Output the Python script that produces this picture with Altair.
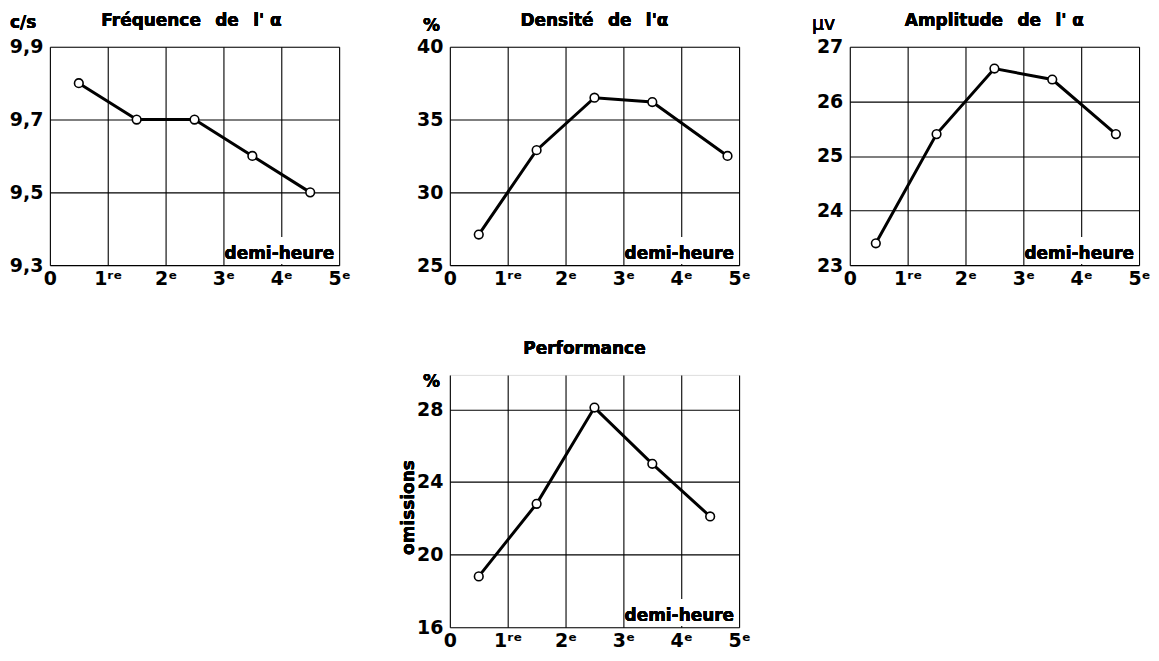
import json
import altair as alt
import pandas as pd

# ---- data ----
half_hour_ticks = [0, 1, 2, 3, 4, 5]
half_hour_labels = ["0", "1ʳᵉ", "2ᵉ", "3ᵉ", "4ᵉ", "5ᵉ"]

freq_x = [0.5, 1.5, 2.5, 3.5, 4.5]
freq_y = [9.8, 9.7, 9.7, 9.6, 9.5]
freq_ticks = [9.3, 9.5, 9.7, 9.9]

dens_x = [0.5, 1.5, 2.5, 3.5, 4.8]
dens_y = [27.1, 32.9, 36.5, 36.2, 32.5]
dens_ticks = [25, 30, 35, 40]

ampl_x = [0.45, 1.5, 2.5, 3.5, 4.6]
ampl_y = [23.4, 25.4, 26.6, 26.4, 25.4]
ampl_ticks = [23, 24, 25, 26, 27]

perf_x = [0.5, 1.5, 2.5, 3.5, 4.5]
perf_y = [18.8, 22.8, 28.1, 25.0, 22.1]
perf_ticks = [16, 20, 24, 28]

FONT = "DejaVu Sans"
W = 290
H1 = 219
H2 = 253
SP = "\u2002 "  # wide word gap as in the original lettering

x_label_expr = json.dumps(half_hour_labels, ensure_ascii=False) + "[datum.value]"


def panel(xs, ys, ydomain, yticks, ylabel_expr, height, title, unit,
          unit_x, unit_y, unit_bold=True, title_dx=0, extra=None):
    df = pd.DataFrame({"x": xs, "y": ys})
    base = alt.Chart(df)
    xenc = alt.X("x:Q", scale=alt.Scale(domain=[0, 5], nice=False, zero=False),
                 axis=alt.Axis(values=half_hour_ticks, labelExpr=x_label_expr,
                               grid=True, ticks=False, domain=False,
                               labelFlush=False, labelPadding=4,
                               labelFontSize=19, labelFontWeight="bold",
                               labelFont=FONT, labelColor="black",
                               gridColor="black", gridWidth=1.1, gridOpacity=1,
                               title=None))
    yenc = alt.Y("y:Q", scale=alt.Scale(domain=ydomain, nice=False, zero=False),
                 axis=alt.Axis(values=yticks, labelExpr=ylabel_expr,
                               grid=True, ticks=False, domain=False,
                               labelFlush=False, labelPadding=7,
                               labelFontSize=19, labelFontWeight="bold",
                               labelFont=FONT, labelColor="black",
                               gridColor="black", gridWidth=1.1, gridOpacity=1,
                               title=None))
    line = base.mark_line(color="black", strokeWidth=3).encode(x=xenc, y=yenc)
    pts = base.mark_point(shape="circle", filled=True, fill="white",
                          stroke="black", strokeWidth=1.6, size=75,
                          opacity=1).encode(x="x:Q", y="y:Q")
    box = base.mark_rect(fill="white", stroke=None).encode(
        x=alt.value(W - 100), x2=alt.value(W - 1.5),
        y=alt.value(height - 28), y2=alt.value(height - 1.5))
    lab = base.mark_text(text="demi-heure", align="right", baseline="alphabetic",
                         font=FONT, fontSize=17, fontWeight="bold",
                         color="black").encode(
        x=alt.value(W - 5), y=alt.value(height - 6))
    ttl = base.mark_text(text=title, align="center", baseline="middle",
                         font=FONT, fontSize=17, fontWeight="bold",
                         color="black").encode(
        x=alt.value(W / 2 + title_dx), y=alt.value(-26))
    un = base.mark_text(text=unit, align="left", baseline="middle",
                        font=FONT, fontSize=17 if unit_bold else 19,
                        fontWeight="bold" if unit_bold else "normal",
                        color="black").encode(
        x=alt.value(unit_x), y=alt.value(unit_y))
    layers = [box, lab, line, pts, ttl, un]
    if extra is not None:
        layers.append(extra(base))
    return alt.layer(*layers).properties(width=W, height=height)


comma_expr = "replace(format(datum.value, '.1f'), '.', ',')"
int_expr = "format(datum.value, 'd')"

p1 = panel(freq_x, freq_y, [9.3, 9.9], freq_ticks, comma_expr, H1,
           "Fréquence" + SP + "de" + SP + "l' α", "c/s", -40, -24, title_dx=-3)
p2 = panel(dens_x, dens_y, [25, 40], dens_ticks, int_expr, H1,
           "Densité" + SP + "de" + SP + "l'α", "%", -27, -21)
p3 = panel(ampl_x, ampl_y, [23, 27], ampl_ticks, int_expr, H1,
           "Amplitude" + SP + "de" + SP + "l' α", "μv", -38, -23, unit_bold=False)


def omissions(base):
    return base.mark_text(text="omissions", angle=270, align="center",
                          baseline="middle", font=FONT, fontSize=17,
                          fontWeight="bold", color="black").encode(
        x=alt.value(-41), y=alt.value(133))


p4 = panel(perf_x, perf_y, [16, 29.9], perf_ticks, int_expr, H2,
           "Performance", "%", -27, 7, title_dx=-10, extra=omissions)

spacer = alt.Chart(pd.DataFrame({"v": [0]})).mark_point(opacity=0).encode(
    x=alt.X("v:Q", axis=None), y=alt.Y("v:Q", axis=None)
).properties(width=W, height=H2, view=alt.ViewBackground(stroke=None))

chart = alt.concat(p1, p2, p3, spacer, p4, columns=3,
                   spacing=alt.RowColnumber(row=110, column=111),
                   bounds="flush", align="each").properties(
    padding={"left": 0, "top": 2, "right": 0, "bottom": 0}
).configure_view(stroke="black", strokeWidth=2).configure(background="white")

chart.save("out.html", embed_options={"renderer": "svg", "actions": False})
